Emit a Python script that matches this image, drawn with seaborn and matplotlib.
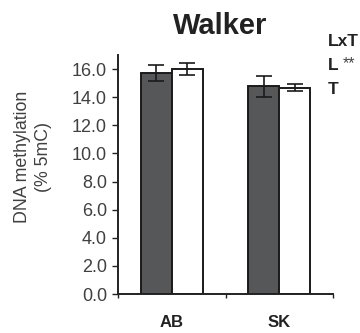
import pandas as pd
import numpy as np
import matplotlib
matplotlib.use("Agg")
import matplotlib.pyplot as plt
import seaborn as sns

# ==========================================
# DATA
# ==========================================

groups = ["AB", "AB", "SK", "SK"]
treatment = ["dark", "white", "dark", "white"]
methylation = [15.72, 16.02, 14.77, 14.67]
sem = [0.55, 0.44, 0.74, 0.24]

y_ticks = [0, 2, 4, 6, 8, 10, 12, 14, 16]
stats_labels = ["LxT", "L", "T"]
stats_marks = ["", "**", ""]

df = pd.DataFrame({
    "Group": groups,
    "Treatment": treatment,
    "Methylation": methylation,
    "SEM": sem
})

# ==========================================
# PLOT
# ==========================================

sns.set_style("ticks")
plt.rcParams["font.family"] = ["Liberation Sans", "DejaVu Sans"]

fig = plt.figure(figsize=(3.6, 3.33), dpi=100)
ax = fig.add_axes([0.328, 0.117, 0.597, 0.718])

sns.barplot(
    data=df,
    x="Group",
    y="Methylation",
    hue="Treatment",
    palette={"dark": "#55575a", "white": "white"},
    edgecolor="#1a1a1a",
    linewidth=1.4,
    width=0.58,
    errorbar=None,
    legend=False,
    ax=ax
)

# error bars on bar centres
bars = [p for p in ax.patches if p.get_height() > 0]
bars = sorted(bars, key=lambda p: p.get_x())
order = df.sort_values(["Group", "Treatment"]).reset_index(drop=True)
for p, (_, row) in zip(bars, order.iterrows()):
    ax.errorbar(
        p.get_x() + p.get_width() / 2,
        row["Methylation"],
        yerr=row["SEM"],
        fmt="none",
        ecolor="#1a1a1a",
        elinewidth=1.2,
        capsize=6,
        capthick=1.2
    )

ax.set_xlim(-0.5, 1.5)
ax.set_ylim(0, 17)
ax.set_yticks(y_ticks)
ax.set_yticklabels([f"{v:.1f}" for v in y_ticks], fontsize=13, color="#404040")

ax.set_xticks([0, 1])
ax.set_xticklabels(["AB", "SK"], fontsize=12, fontweight="bold", color="#222222")
ax.set_xticks([-0.5, 0.5, 1.5], minor=True)
ax.tick_params(axis="x", which="major", length=0, pad=15)
ax.tick_params(axis="x", which="minor", length=3, width=1, color="#222222", direction="out")
ax.tick_params(axis="y", length=4, width=1, color="#222222", direction="out", pad=4)

ax.set_xlabel("")
ax.set_ylabel("")

for side in ["top", "right"]:
    ax.spines[side].set_visible(False)
for side in ["left", "bottom"]:
    ax.spines[side].set_linewidth(1.4)
    ax.spines[side].set_color("#222222")

fig.text(0.092, 1 - 157 / 333, "DNA methylation\n(% 5mC)", rotation=90,
         ha="center", va="center", fontsize=12.8, color="#404040",
         linespacing=1.35, multialignment="center")

fig.text(0.611, 0.921, "Walker", ha="center", va="center",
         fontsize=21, fontweight="bold", color="#222222")

for i, (lab, mark) in enumerate(zip(stats_labels, stats_marks)):
    yy = 1 - (42 + i * 24) / 333
    fig.text(0.910, yy, lab, ha="left", va="center",
             fontsize=12.5, fontweight="bold", color="#222222")
    if mark:
        fig.text(0.953, yy + 0.008, mark, ha="left", va="center",
                 fontsize=11.5, color="#444444")

fig.savefig("out.png", dpi=100)
